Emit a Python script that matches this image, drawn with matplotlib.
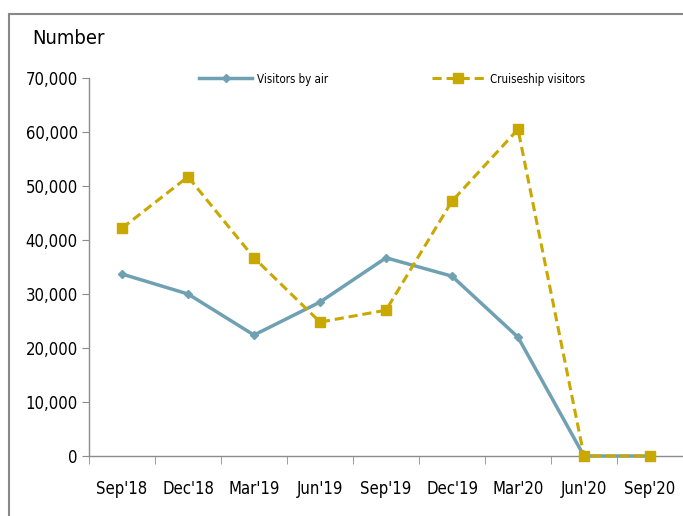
import matplotlib

matplotlib.use("Agg")

import matplotlib.pyplot as plt
from matplotlib.patches import Rectangle
from matplotlib.ticker import FuncFormatter, FixedLocator
import numpy as np

quarters = ["Sep'18", "Dec'18", "Mar'19", "Jun'19", "Sep'19", "Dec'19", "Mar'20", "Jun'20", "Sep'20"]
visitors_air = [33700, 30000, 22400, 28500, 36700, 33300, 22000, 0, 0]
cruise_visitors = [42200, 51700, 36700, 24800, 27000, 47200, 60500, 0, 0]

AIR_COLOR = "#6fa1b3"
CRUISE_COLOR = "#c9a800"
AXIS_COLOR = "#8c8c8c"

plt.rcParams["font.family"] = ["DejaVu Sans"]
plt.rcParams["font.stretch"] = "condensed"

fig = plt.figure(figsize=(6.83, 5.16), dpi=100)
# grey frame of the original chart box (top and left edges visible)
fig.patches.append(Rectangle((9 / 683, -0.1), 1.2, 1.1 - 14 / 516,
                             transform=fig.transFigure, fill=False,
                             edgecolor="#888888", lw=1.5))
ax = fig.add_axes([89 / 683, 1 - 456 / 516, 1 - 89 / 683, (456 - 78) / 516])

x = np.arange(len(quarters))
ax.plot(x, visitors_air, color=AIR_COLOR, lw=2.5, marker="D", ms=4,
        label="Visitors by air", zorder=3)
ax.plot(x, cruise_visitors, color=CRUISE_COLOR, lw=2.2, ls=(0, (3, 1.6)),
        marker="s", ms=7, label="Cruiseship visitors", zorder=4)

ax.set_xlim(-0.5, len(quarters) - 0.5)
ax.set_ylim(0, 70000)
ax.set_yticks(np.arange(0, 70001, 10000))
ax.yaxis.set_major_formatter(FuncFormatter(lambda v, _: f"{int(v):,}"))
ax.set_xticks(x)
ax.set_xticklabels(quarters)
ax.xaxis.set_minor_locator(FixedLocator(np.arange(-0.5, len(quarters), 1.0)))
ax.tick_params(axis="x", which="major", length=0, pad=17, labelsize=12)
ax.tick_params(axis="x", which="minor", length=6, color=AXIS_COLOR, direction="out")
ax.tick_params(axis="y", length=5, color=AXIS_COLOR, pad=3, labelsize=12)

for s in ["top", "right"]:
    ax.spines[s].set_visible(False)
for s in ["left", "bottom"]:
    ax.spines[s].set_color(AXIS_COLOR)
    ax.spines[s].set_linewidth(1.0)
for line in ax.lines:
    line.set_clip_on(False)

fig.text(32 / 683, 1 - 38 / 516, "Number", fontsize=14.5, va="center", ha="left")

ax.legend(loc="center", bbox_to_anchor=(392 / 683, 1 - 79 / 516),
          bbox_transform=fig.transFigure, ncol=2, frameon=False,
          fontsize=8.3, columnspacing=9, handlelength=4.6, handletextpad=0.4)

fig.savefig("out.png", dpi=100)
